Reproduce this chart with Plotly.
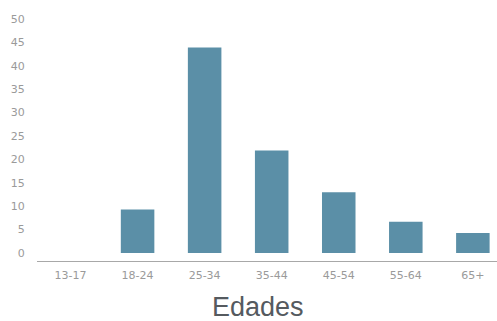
import plotly.graph_objects as go

categories = ["13-17", "18-24", "25-34", "35-44", "45-54", "55-64", "65+"]
values = [0, 9.3, 43.9, 21.9, 13.0, 6.7, 4.3]
y_ticks = [0, 5, 10, 15, 20, 25, 30, 35, 40, 45, 50]
x_title = "Edades"

tick_font = dict(family="DejaVu Sans, sans-serif", size=11, color="#9a9a9a")

fig = go.Figure(go.Bar(x=categories, y=values, marker_color="#5b8fa7", marker_line_width=0))

fig.update_layout(
    width=497, height=321,
    margin=dict(l=37, r=0, t=19, b=60),
    paper_bgcolor="white", plot_bgcolor="white",
    bargap=0.5, showlegend=False,
    font=tick_font,
)
fig.update_xaxes(
    range=[-0.5, 6.36], showgrid=False, zeroline=False,
    showline=True, linecolor="#a8a8a8", linewidth=1,
    ticks="outside", ticklen=4, tickcolor="rgba(0,0,0,0)",
    tickfont=tick_font,
)
fig.update_yaxes(
    range=[-1.7, 50], tickvals=y_ticks, showgrid=False, zeroline=False,
    showline=False, ticks="outside", ticklen=9, tickcolor="rgba(0,0,0,0)",
    tickfont=tick_font,
)
fig.add_annotation(
    text=x_title, xref="paper", yref="paper", x=0.48, y=-0.19,
    xanchor="center", yanchor="middle", showarrow=False,
    font=dict(family="Liberation Sans, Arial, sans-serif", size=27, color="#555a5f"),
)
fig.write_html("out.html", config={"displayModeBar": False},
               post_script="document.body.style.margin='0';")
